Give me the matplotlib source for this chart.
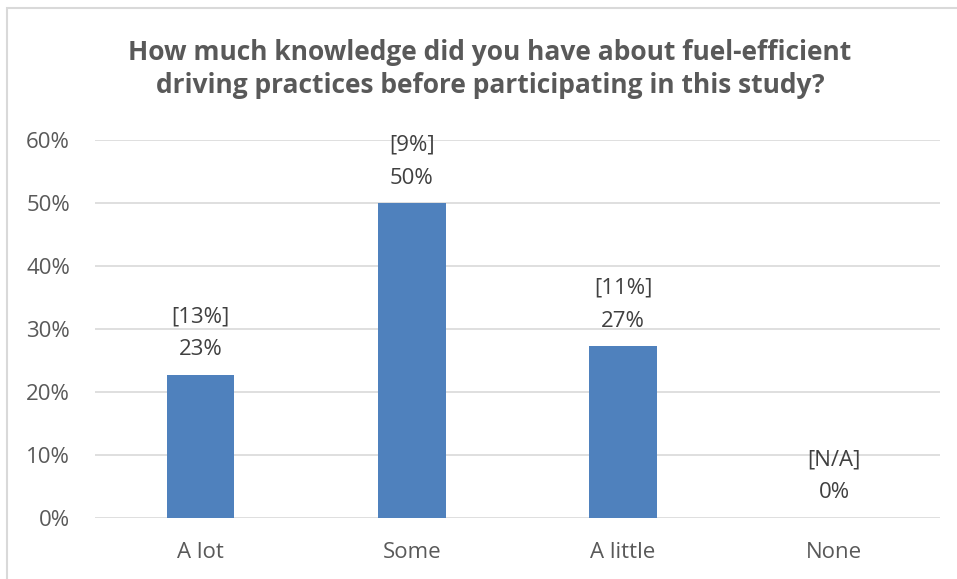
import matplotlib
matplotlib.use("Agg")
import matplotlib.pyplot as plt
from matplotlib.patches import Rectangle

categories = ["A lot", "Some", "A little", "None"]
shares = [22.7, 50.0, 27.3, 0.0]
value_labels = ["23%", "50%", "27%", "0%"]
margin_labels = ["[13%]", "[9%]", "[11%]", "[N/A]"]
yticks = [0, 10, 20, 30, 40, 50, 60]

TEXT = "#595959"
LABEL = "#404040"
plt.rcParams["font.family"] = ["Open Sans", "DejaVu Sans"]

W, H = 957, 579
fig = plt.figure(figsize=(W / 100, H / 100), dpi=100)
ax = fig.add_axes([95 / W, 1 - 518 / H, 845 / W, 378 / H])

x = range(len(categories))
ax.bar(x, shares, width=0.32, color="#4F81BD", zorder=3)
for i, v in enumerate(shares):
    ax.annotate(value_labels[i], (i, v), xytext=(0, 18), textcoords="offset points",
                ha="center", va="center", fontsize=16, color=LABEL)
    ax.annotate(margin_labels[i], (i, v), xytext=(0, 42), textcoords="offset points",
                ha="center", va="center", fontsize=16, color=LABEL)

ax.set_xlim(-0.5, len(categories) - 0.5)
ax.set_ylim(0, 60)
ax.set_yticks(yticks)
ax.set_yticklabels([f"{t}%" for t in yticks])
ax.set_xticks(list(x))
ax.set_xticklabels(categories)
ax.tick_params(axis="both", length=0, labelsize=16, labelcolor=TEXT)
ax.tick_params(axis="y", pad=18)
ax.tick_params(axis="x", pad=17)
ax.grid(axis="y", color="#D9D9D9", linewidth=1.2, zorder=0)
for s in ax.spines.values():
    s.set_visible(False)

fig.text(490 / W, 1 - 69 / H,
         "How much knowledge did you have about fuel-efficient\ndriving practices before participating in this study?",
         ha="center", va="center", fontsize=19, fontweight="bold", color=TEXT,
         linespacing=1.3)

fig.patches.append(Rectangle((7 / W, -0.05), 1.1, 1 - 8 / H + 0.05, transform=fig.transFigure,
                             fill=False, edgecolor="#D9D9D9", linewidth=1.5))

fig.savefig("out.png", dpi=100)
